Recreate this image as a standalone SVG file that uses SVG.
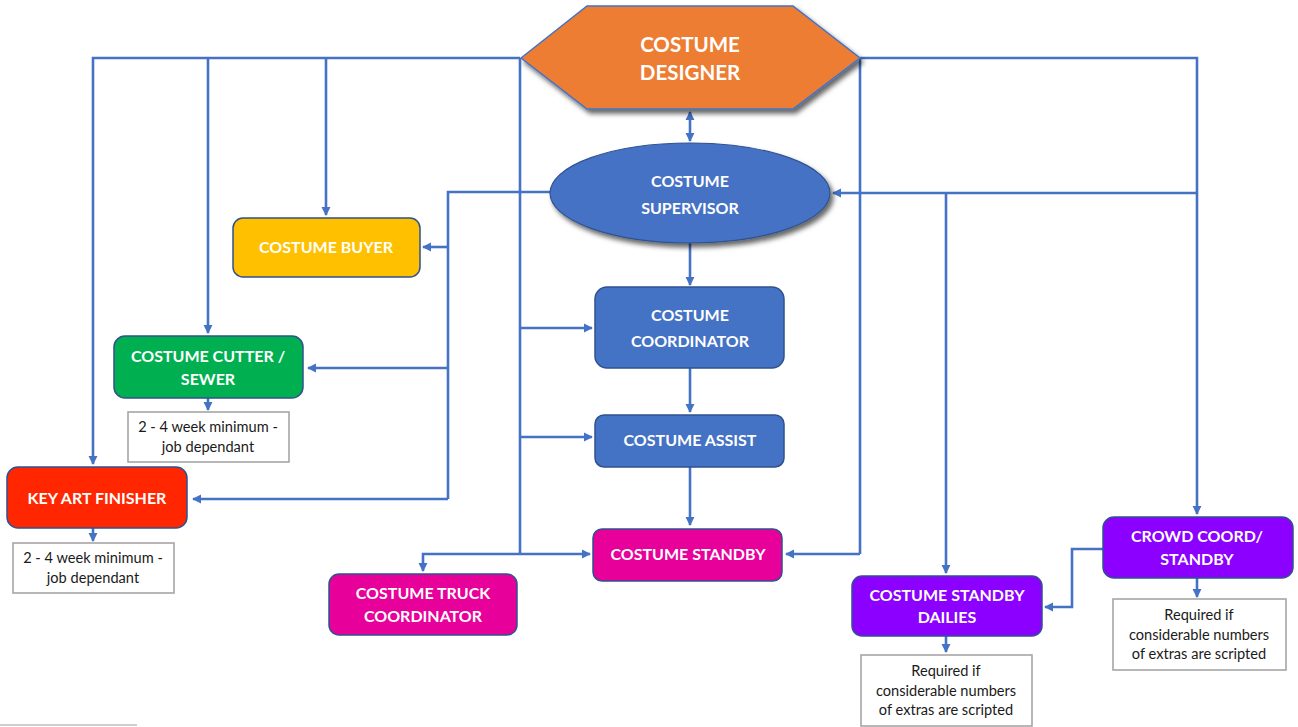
<svg xmlns="http://www.w3.org/2000/svg" width="1298" height="727" viewBox="0 0 1298 727">
<defs>
<marker id="ah" viewBox="0 0 10 10" refX="9" refY="5" markerWidth="3.6" markerHeight="3.6" orient="auto-start-reverse" markerUnits="strokeWidth"><path d="M0,0 L10,5 L0,10 Z" fill="#4472C4"/></marker>
<filter id="sh" x="-10%" y="-10%" width="130%" height="140%"><feDropShadow dx="3" dy="4" stdDeviation="2.5" flood-color="#000" flood-opacity="0.6"/></filter>
<style>
.c{fill:none;stroke:#4472C4;stroke-width:2.6;stroke-linejoin:miter}
.a{marker-end:url(#ah)}
.box{stroke:#2F528F;stroke-width:1.5}
.note{fill:#fff;stroke:#A6A6A6;stroke-width:1.6}
.t{font-family:Lato,"Open Sans","Liberation Sans",sans-serif;font-weight:bold;font-size:16px;fill:#fff;text-anchor:middle}
.n{font-family:Lato,"Open Sans","Liberation Sans",sans-serif;font-size:14.6px;fill:#1a1a1a;text-anchor:middle}
</style>
</defs>
<rect width="1298" height="727" fill="#fff"/>
<g id="connectors">
<polyline class="c a" points="520,58 93,58 93,464"/>
<polyline class="c a" points="208,58 208,333"/>
<polyline class="c a" points="326,58 326,215"/>
<polyline class="c" points="520,58 520,554"/>
<polyline class="c a" points="520,328 592,328"/>
<polyline class="c a" points="520,437 592,437"/>
<polyline class="c a" points="520,554 590,554"/>
<polyline class="c a" points="520,554 423,554 423,571"/>
<polyline class="c" points="860,58 860,554"/>
<polyline class="c a" points="860,554 786,554"/>
<polyline class="c" points="860,58 1197,58 1197,193"/>
<polyline class="c a" points="1197,193 1197,514"/>
<polyline class="c a" points="1197,193 833,193"/>
<polyline class="c a" points="946,193 946,573"/>
<line class="c a" x1="690" y1="112" x2="690" y2="141" style="marker-start:url(#ah)"/>
<polyline class="c" points="550,192 448,192 448,499"/>
<polyline class="c a" points="448,247 423,247"/>
<polyline class="c a" points="448,368 308,368"/>
<polyline class="c a" points="448,499 193,499"/>
<polyline class="c a" points="690,243 690,285"/>
<polyline class="c a" points="690,368 690,412"/>
<polyline class="c a" points="690,467 690,525"/>
<polyline class="c a" points="208,398 208,410"/>
<polyline class="c a" points="93,528 93,541"/>
<polyline class="c a" points="1103,549 1072,549 1072,607 1045,607"/>
<polyline class="c a" points="946,636 946,652"/>
<polyline class="c a" points="1197,578 1197,597"/>
</g>
<g id="designer">
<polygon points="521,58 587,6 793,6 860,58 793,109 587,109" fill="#ED7D31" stroke="#4472C4" stroke-width="1.5" filter="url(#sh)"/>
<text class="t" x="690" y="52" style="font-size:20.5px">COSTUME</text>
<text class="t" x="690" y="80" style="font-size:20.5px">DESIGNER</text>
</g>
<g id="supervisor">
<ellipse cx="690" cy="193" rx="140" ry="50" fill="#4472C4" stroke="#2F528F" stroke-width="1.2" filter="url(#sh)"/>
<text class="t" x="690" y="187">COSTUME</text>
<text class="t" x="690" y="214">SUPERVISOR</text>
</g>
<g id="buyer">
<rect class="box" x="233" y="218" width="187" height="59" rx="10" fill="#FFC000"/>
<text class="t" x="326" y="253">COSTUME BUYER</text>
</g>
<g id="cutter">
<rect class="box" x="114" y="336" width="189" height="62" rx="11" fill="#00B050"/>
<text class="t" x="208" y="362">COSTUME CUTTER /</text>
<text class="t" x="208" y="385">SEWER</text>
</g>
<g id="cutter-note">
<rect class="note" x="128" y="412" width="161" height="50"/>
<text class="n" x="208" y="432">2 - 4 week minimum -</text>
<text class="n" x="208" y="452">job dependant</text>
</g>
<g id="keyart">
<rect class="box" x="7" y="467" width="180" height="61" rx="11" fill="#FF2600"/>
<text class="t" x="97" y="504">KEY ART FINISHER</text>
</g>
<g id="keyart-note">
<rect class="note" x="13" y="543" width="161" height="50"/>
<text class="n" x="93" y="563">2 - 4 week minimum -</text>
<text class="n" x="93" y="583">job dependant</text>
</g>
<g id="coordinator">
<rect class="box" x="595" y="287" width="189" height="81" rx="12" fill="#4472C4"/>
<text class="t" x="690" y="321">COSTUME</text>
<text class="t" x="690" y="347">COORDINATOR</text>
</g>
<g id="assist">
<rect class="box" x="595" y="415" width="189" height="52" rx="9" fill="#4472C4"/>
<text class="t" x="690" y="446">COSTUME ASSIST</text>
</g>
<g id="standby">
<rect class="box" x="593" y="529" width="189" height="52" rx="9" fill="#E8009A"/>
<text class="t" x="688" y="560">COSTUME STANDBY</text>
</g>
<g id="truck">
<rect class="box" x="329" y="574" width="188" height="61" rx="10" fill="#E8009A"/>
<text class="t" x="423" y="599">COSTUME TRUCK</text>
<text class="t" x="423" y="622">COORDINATOR</text>
</g>
<g id="dailies">
<rect class="box" x="852" y="576" width="190" height="60" rx="10" fill="#8B00FF"/>
<text class="t" x="947" y="601">COSTUME STANDBY</text>
<text class="t" x="947" y="623">DAILIES</text>
</g>
<g id="dailies-note">
<rect class="note" x="861" y="655" width="171" height="71"/>
<text class="n" x="946" y="676">Required if</text>
<text class="n" x="946" y="696">considerable numbers</text>
<text class="n" x="946" y="715">of extras are scripted</text>
</g>
<g id="crowd">
<rect class="box" x="1103" y="517" width="190" height="61" rx="11" fill="#8B00FF"/>
<text class="t" x="1197" y="542">CROWD COORD/</text>
<text class="t" x="1197" y="565">STANDBY</text>
</g>
<g id="crowd-note">
<rect class="note" x="1113" y="599" width="173" height="71"/>
<text class="n" x="1199" y="620">Required if</text>
<text class="n" x="1199" y="640">considerable numbers</text>
<text class="n" x="1199" y="659">of extras are scripted</text>
</g>
<line x1="0" y1="725" x2="137" y2="725" stroke="#BFBFBF" stroke-width="1.5"/>
</svg>
